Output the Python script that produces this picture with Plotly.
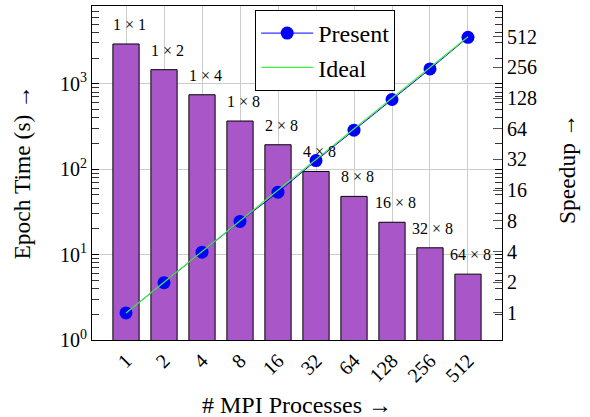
import plotly.graph_objects as go
import math

procs = ["1", "2", "4", "8", "16", "32", "64", "128", "256", "512"]
configs = ["1 × 1", "1 × 2", "1 × 4", "1 × 8", "2 × 8", "4 × 8", "8 × 8", "16 × 8", "32 × 8", "64 × 8"]
epoch_time = [2920, 1460, 743, 366, 193, 94, 48, 23.9, 12.0, 5.9]
speedup_present = [1.0, 1.98, 3.95, 7.9, 15.3, 31.2, 62, 124, 247, 505]
speedup_ideal = [1, 2, 4, 8, 16, 32, 64, 128, 256, 512]

left_ticks = [1, 10, 100, 1000]
left_ticktext = ["10<sup>0</sup>", "10<sup>1</sup>", "10<sup>2</sup>", "10<sup>3</sup>"]
right_ticks = [1, 2, 4, 8, 16, 32, 64, 128, 256, 512]

FONT = "Liberation Serif"
minor_vals = [m * 10 ** d for d in range(0, 4) for m in range(2, 10)]

fig = go.Figure()
fig.add_trace(go.Bar(
    x=procs, y=epoch_time, width=0.69,
    marker=dict(color="#a956c9", line=dict(color="black", width=1)),
    showlegend=False, yaxis="y",
))
fig.add_trace(go.Scatter(
    x=procs, y=speedup_present, mode="lines+markers", name="Present",
    line=dict(color="#0000ff", width=1), marker=dict(color="#0000ff", size=13),
    yaxis="y2",
))
fig.add_trace(go.Scatter(
    x=procs, y=speedup_ideal, mode="lines", name="Ideal",
    line=dict(color="#44ee44", width=1.2), yaxis="y2",
))

for i, (c, t) in enumerate(zip(configs, epoch_time)):
    fig.add_annotation(x=i, y=math.log10(t), text=c, showarrow=False,
                       yanchor="bottom", yshift=9, xshift=3,
                       font=dict(family=FONT, size=16, color="black"), xref="x", yref="y")

# axis titles
fig.add_annotation(x=0.5, y=-0.1946, xref="paper", yref="paper", text="# MPI Processes →",
                   showarrow=False, xanchor="center", yanchor="middle",
                   font=dict(family=FONT, size=24, color="black"))
fig.add_annotation(x=-0.1707, y=0.5015, xref="paper", yref="paper", text="Epoch Time (s) →",
                   showarrow=False, xanchor="center", yanchor="middle", textangle=-90,
                   font=dict(family=FONT, size=23.5, color="black"))
fig.add_annotation(x=1.1585, y=0.512, xref="paper", yref="paper", text="Speedup →",
                   showarrow=False, xanchor="center", yanchor="middle", textangle=-90,
                   font=dict(family=FONT, size=23.5, color="black"))

fig.update_layout(
    width=590, height=417,
    margin=dict(l=92, r=88, t=6, b=77),
    paper_bgcolor="white", plot_bgcolor="white",
    font=dict(family=FONT, size=20, color="black"),
    xaxis=dict(
        type="category", range=[-0.895, 9.895], tickangle=-45, automargin=False,
        showgrid=True, gridcolor="#cccccc", gridwidth=1,
        showline=True, linecolor="black", linewidth=1.2, mirror=True,
        ticks="", tickfont=dict(size=20),
    ),
    yaxis=dict(
        type="log", range=[0, 3.91], automargin=False,
        tickmode="array", tickvals=left_ticks, ticktext=left_ticktext,
        ticks="inside", ticklen=7, tickcolor="black",
        minor=dict(ticks="inside", ticklen=7, tickcolor="#333333", tickmode="array", tickvals=minor_vals, showgrid=False),
        showgrid=True, gridcolor="#cccccc", gridwidth=1,
        showline=True, linecolor="black", linewidth=1.2, mirror="ticks",
        zeroline=False, tickfont=dict(size=20),
    ),
    yaxis2=dict(
        type="log", range=[-0.265, 3.01], overlaying="y", side="right", automargin=False,
        tickmode="array", tickvals=right_ticks, ticktext=[str(v) for v in right_ticks],
        ticks="inside", ticklen=9, tickcolor="#555555",
        showgrid=False, showline=True, linecolor="black", linewidth=1.2,
        zeroline=False, tickfont=dict(size=20),
    ),
    legend=dict(
        x=0.398, y=0.988, xanchor="left", yanchor="top",
        bgcolor="white", bordercolor="black", borderwidth=1,
        font=dict(family=FONT, size=24), traceorder="normal",
        tracegroupgap=0, itemwidth=52,
    ),
)

fig.write_html("out.html", config={"displayModeBar": False},
               post_script="document.body.style.margin='0px';document.body.style.overflow='hidden';")
